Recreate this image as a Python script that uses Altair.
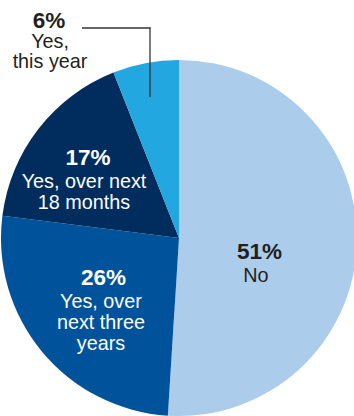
import altair as alt
import pandas as pd

labels = ["No", "Yes, over next three years", "Yes, over next 18 months", "Yes, this year"]
values = [51, 26, 17, 6]
pct_text = ["51%", "26%", "17%", "6%"]
desc_lines = [["No"], ["Yes, over", "next three", "years"], ["Yes, over next", "18 months"], ["Yes,", "this year"]]
colors = ["#abcdeb", "#00539b", "#002d5e", "#22a7e0"]
text_colors = ["#231f20", "#ffffff", "#ffffff", "#231f20"]

df = pd.DataFrame({
    "label": labels,
    "value": values,
    "pct": pct_text,
    "desc": desc_lines,
    "idx": list(range(len(labels))),
})

CX, CY, R = 179, 238, 178
FONT = "Liberation Sans"
PCT_SIZE = 22.5
DESC_SIZE = 19.8
LINE_H = 20.8

base = alt.Chart(df).transform_window(
    cum="sum(value)", sort=[{"field": "idx"}]
).transform_calculate(mid="datum.cum - datum.value / 2")

arcs = base.mark_arc(outerRadius=R, stroke=None).encode(
    theta=alt.Theta("value:Q", stack=True),
    order=alt.Order("idx:Q"),
    color=alt.Color("label:N", scale=alt.Scale(domain=labels, range=colors), legend=None),
    x=alt.value(CX),
    y=alt.value(CY),
)

theta_mid = alt.Theta("mid:Q", scale=alt.Scale(domain=[0, 100], range=[0, 6.283185307]))


def inner_label(i, r, pdx, pdy, ddx, ddy):
    sub = base.transform_filter(alt.datum.idx == i)
    col = text_colors[i]
    p = sub.mark_text(radius=r, dx=pdx, dy=pdy, font=FONT, fontSize=PCT_SIZE, fontWeight="bold",
                      color=col, align="center", baseline="alphabetic").encode(
        theta=theta_mid, text="pct:N", x=alt.value(CX), y=alt.value(CY))
    d = sub.mark_text(radius=r, dx=ddx, dy=ddy, font=FONT, fontSize=DESC_SIZE, lineHeight=LINE_H,
                      color=col, align="center", baseline="alphabetic").encode(
        theta=theta_mid, text="desc", x=alt.value(CX), y=alt.value(CY))
    return [p, d]


layers = [arcs]
layers += inner_label(0, 80, 0.5, 18.5, -3, 41.5)
layers += inner_label(1, 100, 1.5, -16.7, -1, 6.3)
layers += inner_label(2, 105, -8, -8.6, -12, 14.4)

# outside label for the small slice
sub3 = base.transform_filter(alt.datum.idx == 3)
layers.append(sub3.mark_text(font=FONT, fontSize=PCT_SIZE, fontWeight="bold", color=text_colors[3],
                             align="center", baseline="alphabetic").encode(
    text="pct:N", x=alt.value(49), y=alt.value(28)))
layers.append(sub3.mark_text(font=FONT, fontSize=DESC_SIZE, lineHeight=LINE_H, color=text_colors[3],
                             align="center", baseline="alphabetic").encode(
    text="desc", x=alt.value(50), y=alt.value(47.5)))

# leader line
layers.append(sub3.mark_rule(color="#333333", strokeWidth=1.3).encode(
    x=alt.value(82), x2=alt.value(150.5), y=alt.value(28)))
layers.append(sub3.mark_rule(color="#333333", strokeWidth=1.3).encode(
    x=alt.value(150), y=alt.value(27.5), y2=alt.value(97)))

chart = alt.layer(*layers).properties(
    width=354, height=416, padding=0, autosize=alt.AutoSizeParams(type="none")
).configure_view(stroke=None)

chart.save("out.html", embed_options={"renderer": "svg", "actions": False})
